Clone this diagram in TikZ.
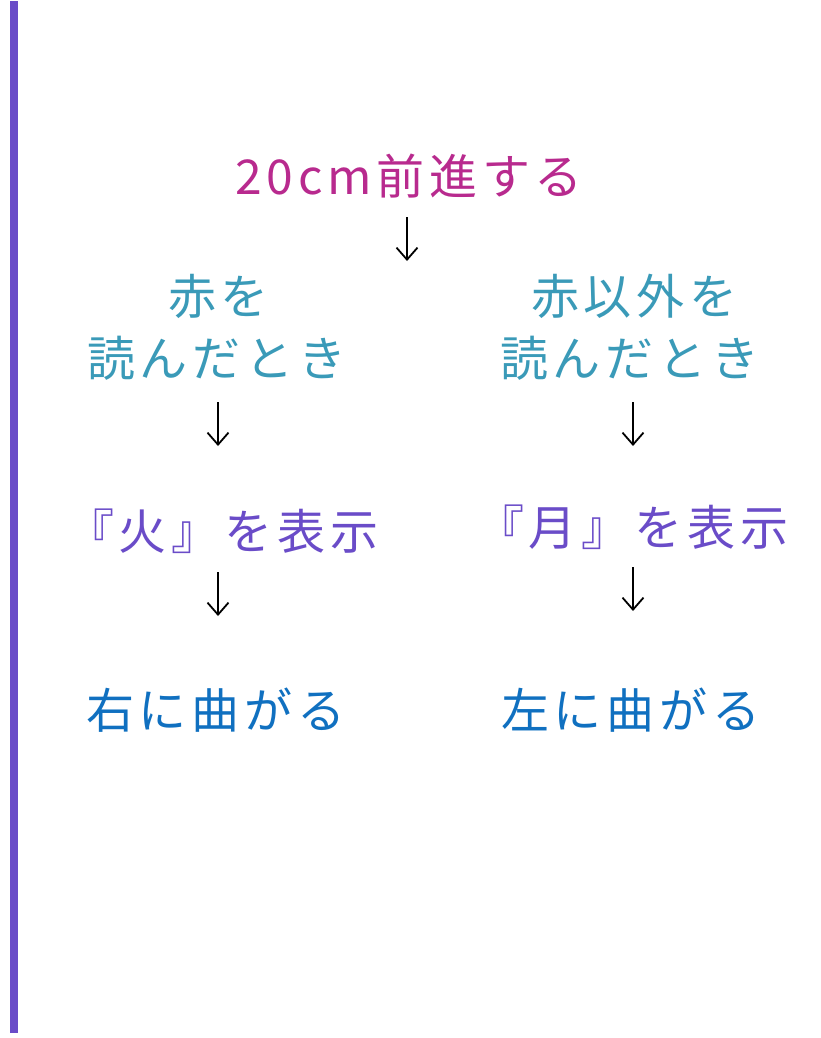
\documentclass[tikz,border=0pt]{standalone}
\usepackage{fontspec}
\newfontfamily\jpfont{Noto Sans CJK JP}[LetterSpace=10]
\usetikzlibrary{arrows.meta}
\definecolor{cMag}{HTML}{B82A8E}
\definecolor{cTeal}{HTML}{3A9AB8}
\definecolor{cPur}{HTML}{6A4CC8}
\definecolor{cBlue}{HTML}{1070C0}
\tikzset{
  txt/.style={anchor=base west, inner sep=0pt, font=\jpfont\fontsize{48pt}{58pt}\selectfont},
  arr/.style={draw=black, line width=1.8pt, -{Straight Barb[length=12pt,width=21pt,line width=1.8pt]}},
}
\begin{document}
\begin{tikzpicture}[x=1pt,y=-1pt]
\useasboundingbox (0,0) rectangle (821,1038);
\fill[cPur] (10,1) rectangle (18,1033);
\node[txt, text=cMag] (t0) at (235,194) {20cm前進する};
\node[txt, text=cTeal] (l1a) at (168,314.5) {赤を};
\node[txt, text=cTeal] (l1b) at (87,376.5) {読んだとき};
\node[txt, text=cTeal] (r1a) at (531,314.5) {赤以外を};
\node[txt, text=cTeal] (r1b) at (500,376.5) {読んだとき};
\node[txt, text=cPur] (l2) at (66,549.5) {『火』を表示};
\node[txt, text=cPur] (r2) at (476,545) {『月』を表示};
\node[txt, text=cBlue] (l3) at (86,728.5) {右に曲がる};
\node[txt, text=cBlue] (r3) at (501,728.5) {左に曲がる};
\coordinate (a0s) at (407,217); \coordinate (a0e) at (407,261);
\coordinate (a1s) at (218,402); \coordinate (a1e) at (218,446);
\coordinate (a2s) at (218,572); \coordinate (a2e) at (218,616);
\coordinate (a3s) at (633,402); \coordinate (a3e) at (633,446);
\coordinate (a4s) at (633,567); \coordinate (a4e) at (633,611);
\draw[arr] (a0s) -- (a0e);
\draw[arr] (a1s) -- (a1e);
\draw[arr] (a2s) -- (a2e);
\draw[arr] (a3s) -- (a3e);
\draw[arr] (a4s) -- (a4e);
\end{tikzpicture}
\end{document}
